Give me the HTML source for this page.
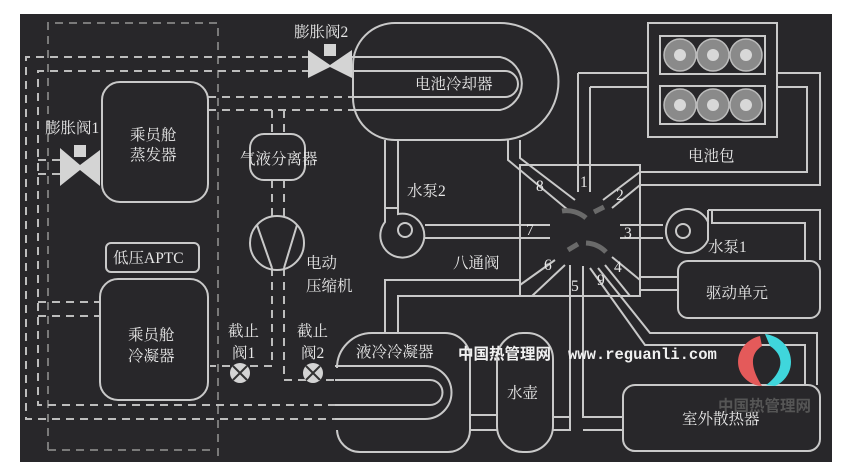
<!DOCTYPE html>
<html><head><meta charset="utf-8"><style>
html,body{margin:0;padding:0;background:#fff;width:845px;height:462px;overflow:hidden}
svg{display:block}
text{font-family:"Liberation Serif","Noto Serif CJK SC","Noto Sans CJK SC",serif;fill:#e8e8e8;font-size:15.5px}
</style></head><body>
<svg width="845" height="462" viewBox="0 0 845 462" xmlns="http://www.w3.org/2000/svg">
<rect x="20" y="14" width="812" height="448" fill="#28272a"/>
<g fill="none" stroke="#bdbdbd" stroke-width="2" stroke-dasharray="8,6">
<path d="M48 450 V23 H218 V460" stroke="#7a7a7a"/>
<path d="M310 57 H26 V419 H335"/>
<path d="M310 71 H38 V405 H335"/>
<path d="M38 160 H62 M38 174 H62"/>
<path d="M208 97 H352 M208 110 H352"/>
<path d="M272 110 V134 M284 110 V134 M272 180 V218 M284 180 V218"/>
<path d="M272 268 V366 H210 M284 268 V380 H335"/>
<path d="M38 302 H100 M38 316 H100"/>
<path d="M48 450 H210" stroke="#7a7a7a"/>
</g>
<g fill="none" stroke="#c9c9c9" stroke-width="2">
<path d="M395 23 H500 A58 58 0 0 1 500 140 H395 A42 42 0 0 1 353 98 V65 A42 42 0 0 1 395 23 Z"/>
<path d="M352 57 H500 A27 27 0 0 1 500 110 H352"/>
<path d="M352 71 H505 A13 13 0 0 1 505 97 H352"/>
<path d="M385 140 V210 M398 140 V210"/>
<path d="M385 208 H398 V214 A22 22 0 1 1 385 222 Z"/>
<circle cx="405" cy="230" r="7"/>
<path d="M425 225 H550 M425 238 H550"/>
<path d="M508 140 V160 L568 210 M520 140 V158 L575 200"/>
<rect x="520" y="165" width="120" height="131"/>
<path d="M578 73 V192 M590 87 V192 M578 73 H648 M590 87 H648"/>
<path d="M603 200 L640 172 H807 V87 H777 M612 208 L640 185 H820 V73 H777"/>
<path d="M620 225 H663 M620 238 H663"/>
<path d="M612 257 L640 280 M605 265 L630 296 M640 277 H678 M640 290 H678"/>
<path d="M555 260 L520 285 M565 265 L532 296 M520 280 H385 V333 M532 296 H398 V333"/>
<path d="M570 265 V417 H553 M583 266 V417 H623 M570 417 V430 H553 M583 430 H623"/>
<path d="M590 268 L645 345 H805 V385 M598 268 L650 333 H817 V385"/>
<rect x="648" y="23" width="129" height="114"/>
<rect x="660" y="36" width="105" height="38"/>
<rect x="660" y="86" width="105" height="38"/>
<path d="M708 210 H712 V223 H805 V260 M712 210 H820 V260"/>
<path d="M708 210 V222 A22 22 0 1 0 708 240 Z" />
<circle cx="683" cy="231" r="7"/>
<rect x="102" y="82" width="106" height="120" rx="18"/>
<rect x="100" y="279" width="108" height="121" rx="18"/>
<rect x="106" y="243" width="93" height="29" rx="5"/>
<rect x="250" y="134" width="55" height="46" rx="14"/>
<circle cx="277" cy="243" r="27"/>
<path d="M257 225 L272 268 M297 225 L284 268"/>
<rect x="678" y="261" width="142" height="57" rx="10"/>
<rect x="623" y="385" width="197" height="66" rx="12"/>
<path d="M337 368 A35 35 0 0 1 372 333 H445 A25 25 0 0 1 470 358 V430 A22 22 0 0 1 448 452 H360 A23 23 0 0 1 337 430"/>
<path d="M335 366 H425 A23 23 0 0 1 425 419 H335 M335 380 H430 A10 10 0 0 1 430 405 H335"/>
<path d="M470 415 H497 M470 430 H497"/>
<rect x="497" y="333" width="56" height="119" rx="26"/>
</g>
<g fill="#8a8a8a" stroke="#bbb" stroke-width="1.5">
<circle cx="680" cy="55" r="16"/><circle cx="713" cy="55" r="16"/><circle cx="746" cy="55" r="16"/>
<circle cx="680" cy="105" r="16"/><circle cx="713" cy="105" r="16"/><circle cx="746" cy="105" r="16"/>
</g>
<g fill="#d8d8d8">
<circle cx="680" cy="55" r="6"/><circle cx="713" cy="55" r="6"/><circle cx="746" cy="55" r="6"/>
<circle cx="680" cy="105" r="6"/><circle cx="713" cy="105" r="6"/><circle cx="746" cy="105" r="6"/>
</g>
<g fill="none" stroke="#6a6a6a" stroke-width="5">
<path d="M562 211 A30 30 0 0 1 586 218"/><path d="M594 212 L604 207"/>
<path d="M568 250 L578 244"/><path d="M586 243 A30 30 0 0 1 606 252"/>
</g>
<g fill="#d4d4d4">
<path d="M60 148 L80 165 L100 150 L100 186 L80 170 L60 186 Z"/>
<rect x="74" y="145" width="12" height="12"/>
<path d="M308 50 L330 65 L352 50 L352 78 L330 67 L308 78 Z"/>
<rect x="324" y="44" width="12" height="12"/>
<circle cx="240" cy="373" r="10"/><circle cx="313" cy="373" r="10"/>
</g>
<g stroke="#333" stroke-width="2">
<path d="M233 366 L247 380 M247 366 L233 380 M306 366 L320 380 M320 366 L306 380"/>
</g>
<path d="M760 336 C742 340 732 360 742 375 C748 383 756 386 762 386 C752 370 748 355 762 346 Z" fill="#e45a5a"/>
<path d="M765 334 C795 338 800 375 775 386 L766 385 C780 375 788 358 770 346 Z" fill="#3fd6dc"/>
<text x="294" y="37">膨胀阀2</text>
<text x="415" y="89">电池冷却器</text>
<text x="45" y="133">膨胀阀1</text>
<text x="130" y="140">乘员舱</text>
<text x="130" y="160">蒸发器</text>
<text x="240" y="164">气液分离器</text>
<text x="407" y="196">水泵2</text>
<text x="688" y="161">电池包</text>
<text x="453" y="268">八通阀</text>
<text x="708" y="252">水泵1</text>
<text x="706" y="298">驱动单元</text>
<text x="306" y="268">电动</text>
<text x="306" y="291">压缩机</text>
<text x="113" y="263">低压APTC</text>
<text x="228" y="336">截止</text>
<text x="232" y="358">阀1</text>
<text x="297" y="336">截止</text>
<text x="301" y="358">阀2</text>
<text x="128" y="340">乘员舱</text>
<text x="128" y="361">冷凝器</text>
<text x="356" y="357">液冷冷凝器</text>
<text x="507" y="398">水壶</text>
<text x="682" y="424">室外散热器</text>
<text x="458" y="359" font-weight="bold" font-size="16" style="font-family:'Noto Sans CJK SC',sans-serif;fill:#f0f0f0">中国热管理网</text>
<text x="568" y="359" font-weight="bold" font-size="13" style="font-family:'Liberation Mono',monospace;fill:#f0f0f0">www.reguanli.com</text>
<text x="718" y="411" font-size="17" font-weight="bold" style="font-family:'Noto Sans CJK SC',sans-serif;fill:#555">中国热管理网</text>
<g font-size="15">
<text x="580" y="187">1</text><text x="616" y="200">2</text><text x="624" y="238">3</text>
<text x="614" y="272">4</text><text x="571" y="291">5</text><text x="544" y="270">6</text>
<text x="526" y="235">7</text><text x="536" y="191">8</text><text x="597" y="285">9</text>
</g>
</svg>
</body></html>
